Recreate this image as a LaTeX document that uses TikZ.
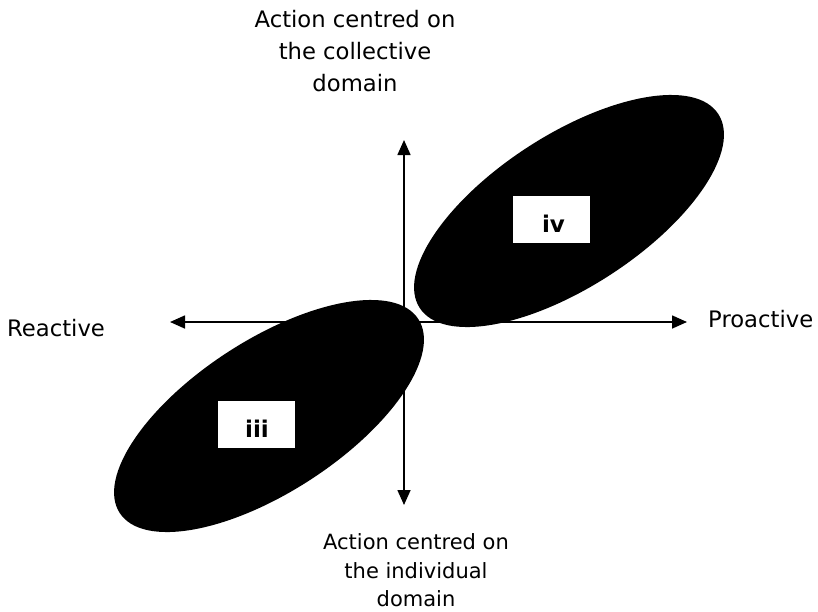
\documentclass[tikz,border=0pt]{standalone}
\usepackage{fontspec}
\setmainfont{DejaVu Sans}
\usetikzlibrary{arrows.meta}
\begin{document}
\begin{tikzpicture}[x=1pt,y=-1pt,
  axis/.style={line width=1.6pt, -{Triangle[length=15pt,width=13pt]}},
  blob/.style={fill=black},
  tagbox/.style={fill=white, draw=none, inner sep=0pt, minimum width=77pt, minimum height=47pt},
  tagtext/.style={font=\fontsize{23}{27}\selectfont\bfseries, inner sep=0pt},
  bigtext/.style={font=\fontsize{22.7}{32}\selectfont, inner sep=0pt, align=center},
  smalltext/.style={font=\fontsize{21}{28.5}\selectfont, inner sep=0pt, align=center}
]
\useasboundingbox (0,0) rectangle (818,611);
\coordinate (O) at (404,322);
\coordinate (N) at (404,140);
\coordinate (S) at (404,505);
\coordinate (W) at (170,322);
\coordinate (E) at (687,322);
\draw[axis] (O) -- (N);
\draw[axis] (O) -- (S);
\draw[axis] (O) -- (W);
\draw[axis] (O) -- (E);
\fill[blob, rotate around={33:(269,416)}] (269,416) ellipse [x radius=178pt, y radius=76pt];
\fill[blob, rotate around={33:(569,211)}] (569,211) ellipse [x radius=178pt, y radius=76pt];
\node[tagbox] (ivbox) at (551.5,219.5) {};
\node[tagtext, anchor=base] (ivtext) at (553.5,232) {iv};
\node[tagbox] (iiibox) at (256,424) {};
\node[tagtext, anchor=base] (iiitext) at (257,437) {iii};
\node[bigtext] (toplabel) at (355,51) {Action centred on\\the collective\\domain};
\node[smalltext] (bottomlabel) at (416,570.5) {Action centred on\\the individual\\domain};
\node[bigtext, anchor=base west] (reactive) at (7,336) {Reactive};
\node[bigtext, anchor=base west] (proactive) at (708,327) {Proactive};
\end{tikzpicture}
\end{document}
